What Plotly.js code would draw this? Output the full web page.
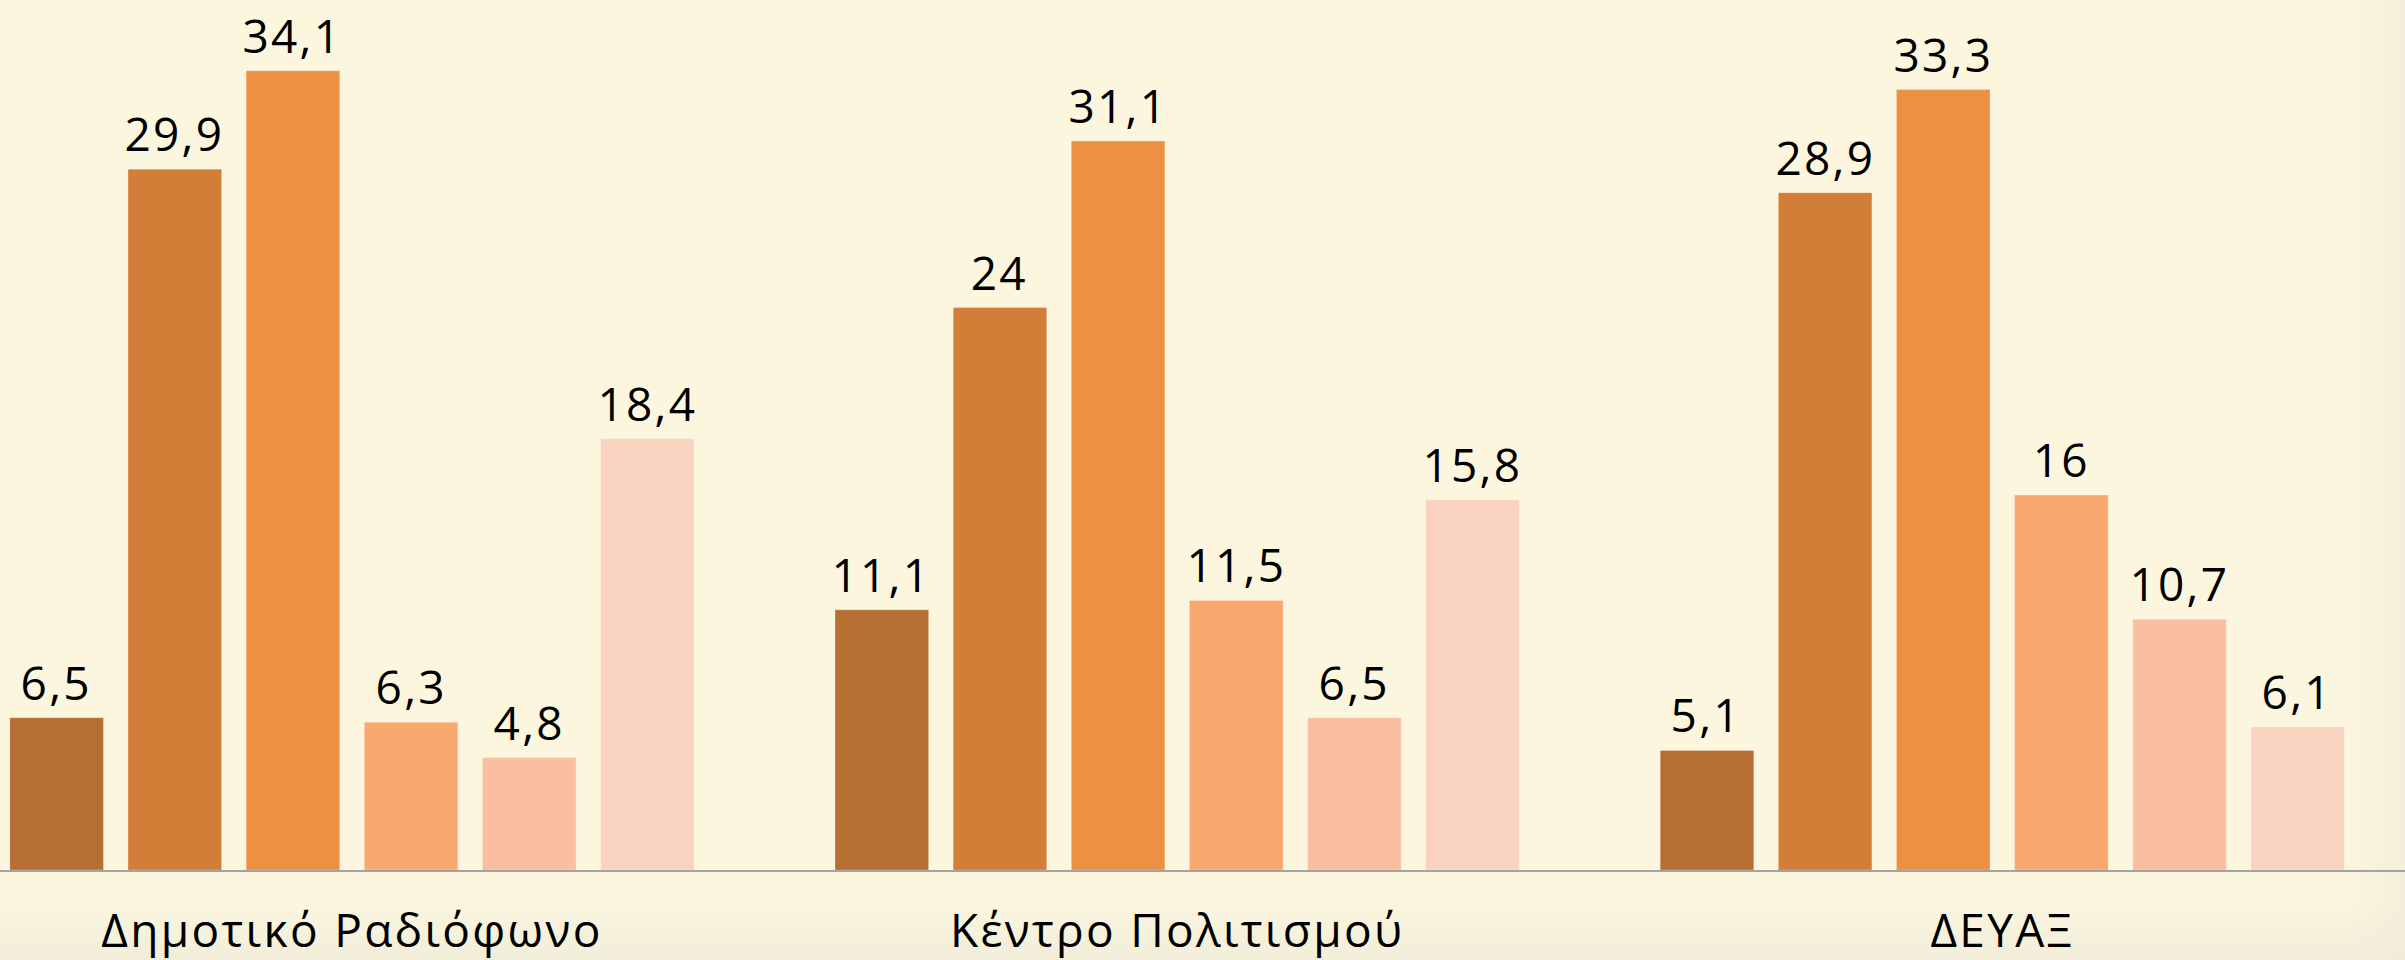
<!DOCTYPE html>
<html>
<head>
<meta charset="utf-8">
<script src="https://cdn.plot.ly/plotly-3.0.1.min.js"></script>
<style>
  html, body { margin: 0; padding: 0; }
  body {
    width: 2405px; height: 960px; overflow: hidden;
    background:
      linear-gradient(to bottom, rgba(252,246,223,0) 0px, rgba(252,246,223,0) 900px, rgba(240,236,216,0.85) 960px),
      linear-gradient(to right, #FCF6DF 0px, #FCF6DF 2340px, #F3EFDA 2405px);
  }
  #chart { width: 2405px; height: 960px; }
  #chart .xtick text, #chart .annotation-text { letter-spacing: 2.3px; }
</style>
</head>
<body>
<div id="chart"></div>
<script>
const categories = ["Δημοτικό Ραδιόφωνο", "Κέντρο Πολιτισμού", "ΔΕΥΑΞ"];
const series1 = [6.5, 11.1, 5.1];
const series2 = [29.9, 24, 28.9];
const series3 = [34.1, 31.1, 33.3];
const series4 = [6.3, 11.5, 16];
const series5 = [4.8, 6.5, 10.7];
const series6 = [18.4, 15.8, 6.1];

const allSeries = [series1, series2, series3, series4, series5, series6];
const colors = ["#B66E33", "#D37E38", "#EC9044", "#F8A76F", "#F9BFA0", "#FAD3C0"];

const BARGAP = 0.141;
const BARGROUPGAP = 0.208;
const FONT = "Open Sans, Noto Sans, sans-serif";

const traces = allSeries.map((vals, i) => ({
  type: "bar",
  x: categories,
  y: vals,
  marker: { color: colors[i], line: { color: "rgba(255,255,255,0.25)", width: 1 } },
  hoverinfo: "skip",
  showlegend: false
}));

const n = allSeries.length;
const slot = (1 - BARGAP) / n;
const annotations = [];
allSeries.forEach((vals, i) => {
  vals.forEach((v, c) => {
    annotations.push({
      x: c + (i - (n - 1) / 2) * slot,
      y: v,
      xref: "x", yref: "y",
      text: String(v).replace(".", ","),
      showarrow: false,
      yanchor: "bottom",
      xanchor: "center",
      yshift: 3,
      font: { family: FONT, size: 46, color: "#000000" }
    });
  });
});

const layout = {
  width: 2405, height: 960,
  margin: { l: 0, r: 0, t: 0, b: 90, pad: 0 },
  paper_bgcolor: "rgba(0,0,0,0)",
  plot_bgcolor: "rgba(0,0,0,0)",
  barmode: "group",
  bargap: BARGAP,
  bargroupgap: BARGROUPGAP,
  xaxis: {
    type: "category",
    range: [-0.4266, 2.488],
    showline: true, linecolor: "#A3A3A3", linewidth: 2,
    showgrid: false, zeroline: false, ticks: "",
    ticklabelstandoff: 20,
    tickfont: { family: FONT, size: 46, color: "#000000" },
    fixedrange: true
  },
  yaxis: {
    range: [0, 37.12],
    visible: false, showgrid: false, zeroline: false,
    fixedrange: true
  },
  annotations: annotations
};

Plotly.newPlot("chart", traces, layout, { displayModeBar: false, staticPlot: true });
</script>
</body>
</html>
